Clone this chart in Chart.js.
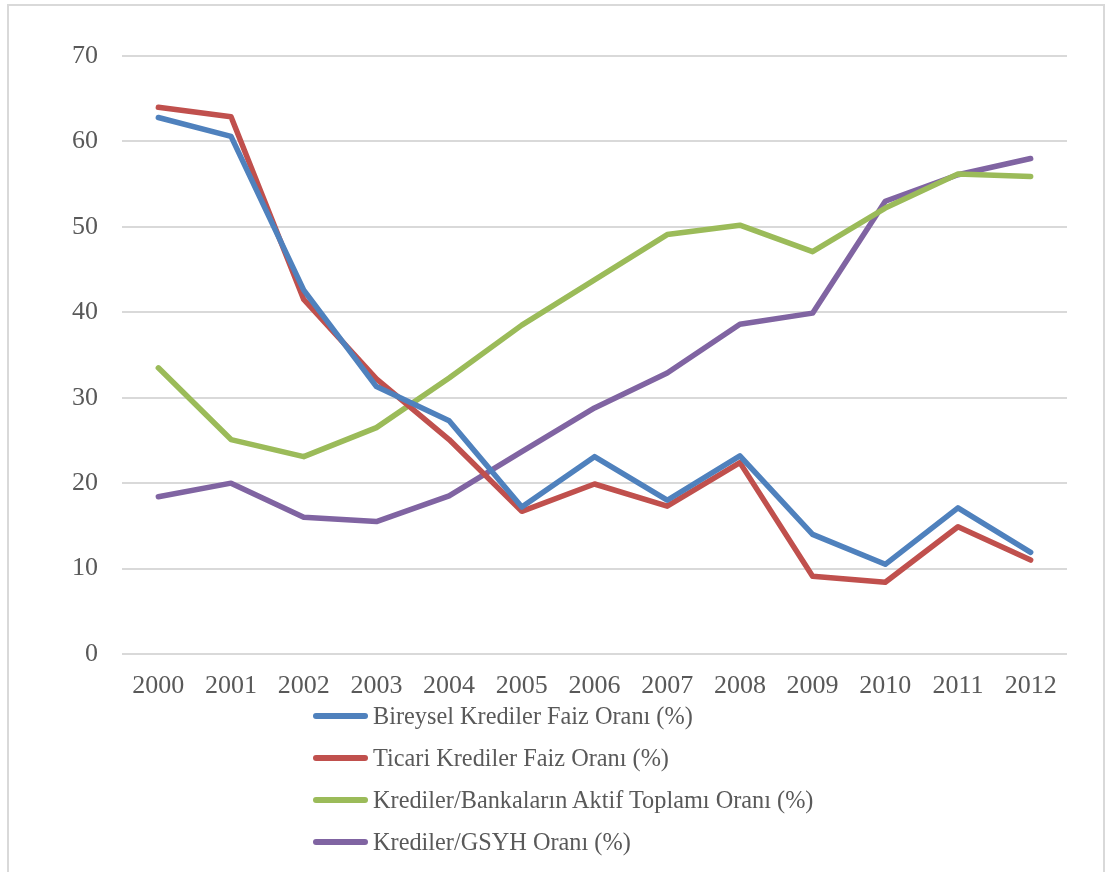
<!DOCTYPE html>
<html>
<head>
<meta charset="utf-8">
<script src="https://cdn.jsdelivr.net/npm/chart.js@4/dist/chart.umd.min.js"></script>
<style>
  body { margin: 0; background: #fff; overflow: hidden; }
  .frame {
    position: absolute; left: 7px; top: 4px; width: 1098px; height: 900px;
    border: 2px solid #d9d9d9; box-sizing: border-box;
  }
  .chart-wrap { position: absolute; left: 0; top: 0; width: 1109px; height: 720px; }
  #legend { position: absolute; left: 313px; top: 695px; font-family: "Liberation Serif", "Times New Roman", serif; font-size: 24.3px; color: #595959; }
  .legend-item { height: 42px; display: flex; align-items: center; }
  .legend-line { width: 55px; height: 5.5px; border-radius: 3px; margin-right: 5px; }
</style>
</head>
<body>
<div class="frame"></div>
<div class="chart-wrap"><canvas id="lineChart"></canvas></div>
<div id="legend"></div>
<script>
// Years on the x axis
const years = ["2000", "2001", "2002", "2003", "2004", "2005", "2006", "2007", "2008", "2009", "2010", "2011", "2012"];

// Series values (%)
const bireyselFaiz = [62.8, 60.6, 42.6, 31.3, 27.3, 17.2, 23.1, 18.0, 23.2, 14.0, 10.5, 17.1, 11.9];
const ticariFaiz = [64.0, 62.9, 41.5, 32.2, 25.1, 16.7, 19.9, 17.3, 22.4, 9.1, 8.4, 14.9, 11.0];
const krediAktif = [33.5, 25.1, 23.1, 26.5, 32.3, 38.5, 43.8, 49.1, 50.2, 47.1, 52.2, 56.2, 55.9];
const krediGsyh = [18.4, 20.0, 16.0, 15.5, 18.5, 23.7, 28.8, 32.9, 38.6, 39.9, 53.0, 56.1, 58.0];

const yTicks = [0, 10, 20, 30, 40, 50, 60, 70];

const seriesNames = [
  "Bireysel Krediler Faiz Oranı (%)",
  "Ticari Krediler Faiz Oranı (%)",
  "Krediler/Bankaların Aktif Toplamı Oranı (%)",
  "Krediler/GSYH Oranı (%)",
];
const seriesColors = ["#4F81BD", "#C0504D", "#9BBB59", "#8064A2"];

document.addEventListener("DOMContentLoaded", () => {
  const allData = [bireyselFaiz, ticariFaiz, krediAktif, krediGsyh];
  const tickFont = { family: "'Liberation Serif', 'Times New Roman', serif", size: 26 };

  const chart = new Chart(document.getElementById("lineChart"), {
    type: "line",
    data: {
      labels: years,
      datasets: allData.map((vals, i) => ({
        label: seriesNames[i],
        data: vals,
        borderColor: seriesColors[i],
        backgroundColor: seriesColors[i],
        borderWidth: 5.5,
        pointRadius: 0,
        tension: 0,
        borderCapStyle: "round",
        borderJoinStyle: "round",
      })),
    },
    options: {
      responsive: true,
      maintainAspectRatio: false,
      animation: false,
      layout: { padding: { left: 0, right: 42, top: 56, bottom: 0 } },
      plugins: {
        legend: { display: false },
        tooltip: { enabled: false },
      },
      scales: {
        x: {
          offset: true,
          grid: { display: false, drawTicks: false },
          border: { display: false },
          ticks: { color: "#595959", font: tickFont, padding: 17, maxRotation: 0 },
          afterFit: (scale) => { scale.height = 66; },
        },
        y: {
          min: 0,
          max: 70,
          afterBuildTicks: (scale) => { scale.ticks = yTicks.map((v) => ({ value: v })); },
          grid: { color: "#d9d9d9", lineWidth: 2, drawTicks: false },
          border: { display: false },
          ticks: { color: "#595959", font: tickFont, padding: 24 },
          afterFit: (scale) => { scale.width = 122; },
        },
      },
    },
  });

  // Build the stacked legend from the chart datasets
  const legend = document.getElementById("legend");
  chart.data.datasets.forEach((ds) => {
    const item = document.createElement("div");
    item.className = "legend-item";
    const line = document.createElement("span");
    line.className = "legend-line";
    line.style.background = ds.borderColor;
    const text = document.createElement("span");
    text.textContent = ds.label;
    item.appendChild(line);
    item.appendChild(text);
    legend.appendChild(item);
  });
});
</script>
</body>
</html>
